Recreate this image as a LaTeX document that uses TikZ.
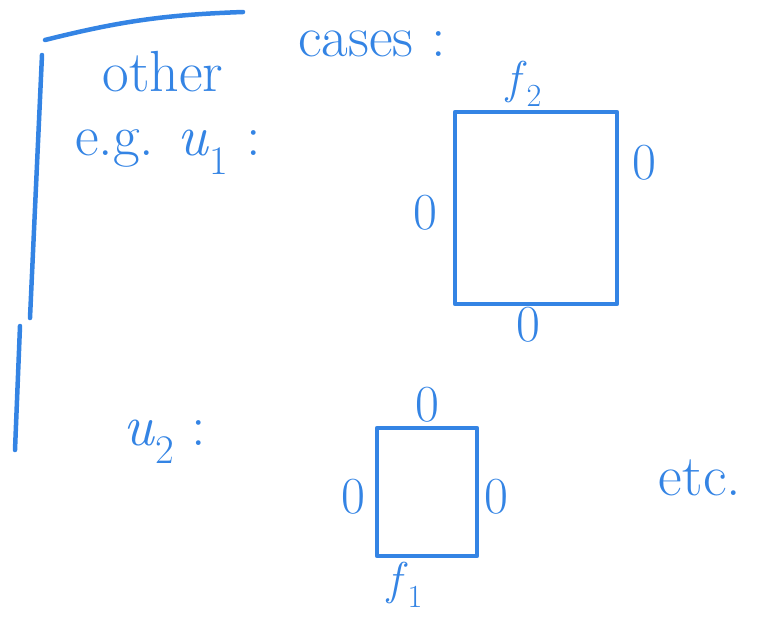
\documentclass[tikz,border=0pt]{standalone}
\usepackage{tikz}
\usetikzlibrary{positioning}
\usepackage{xcolor}
\definecolor{pen}{RGB}{52,132,228}

\begin{document}
\begin{tikzpicture}[
    x=1pt, y=-1pt,
    ink/.style={draw=pen, line width=4.5pt, line cap=round, line join=round},
    face/.style={ink, inner sep=0pt},
    hand/.style={text=pen, font=\fontsize{58}{60}\selectfont, inner sep=1pt},
    zero/.style={text=pen, font=\fontsize{52}{54}\selectfont, inner sep=1pt},
    flab/.style={text=pen, font=\fontsize{46}{48}\selectfont, inner sep=1pt}
]
\useasboundingbox (0,0) rectangle (773,621);

% bracket on the left
\draw[ink] (45,40) to[bend left=6] (243,12);
\draw[ink] (42,55) -- (30,318);
\draw[ink] (20,326) -- (15,450);

% heading
\node[hand] (other) at (163,72) {other};
\node[hand] (cases) at (372,44) {cases :};

% first case
\node[hand] (eg) at (168,152) {e.g. \textit{u}\textsubscript{1} :};
\node[face, minimum width=162pt, minimum height=192pt] (bigface) at (536,208) {};
\node[flab, above=2pt of bigface, xshift=-12pt] (ftwo) {\textit{f}\textsubscript{2}};
\node[zero, right=12pt of bigface.east, yshift=45pt] (bigr) {0};
\node[zero, left=14pt of bigface.west, yshift=-5pt] (bigl) {0};
\node[zero, below=0pt of bigface.south, xshift=-8pt] (bigb) {0};

% second case
\node[hand] (utwo) at (165,442) {\textit{u}\textsubscript{2} :};
\node[face, minimum width=100pt, minimum height=128pt] (smallface) at (427,492) {};
\node[zero, above=2pt of smallface] (smallt) {0};
\node[zero, left=8pt of smallface.west, yshift=-5pt] (smalll) {0};
\node[zero, right=4pt of smallface.east, yshift=-5pt] (smallr) {0};
\node[flab, below=3pt of smallface.south, xshift=-22pt] (fone) {\textit{f}\textsubscript{1}};

\node[hand] (etc) at (700,478) {etc.};

\end{tikzpicture}
\end{document}
